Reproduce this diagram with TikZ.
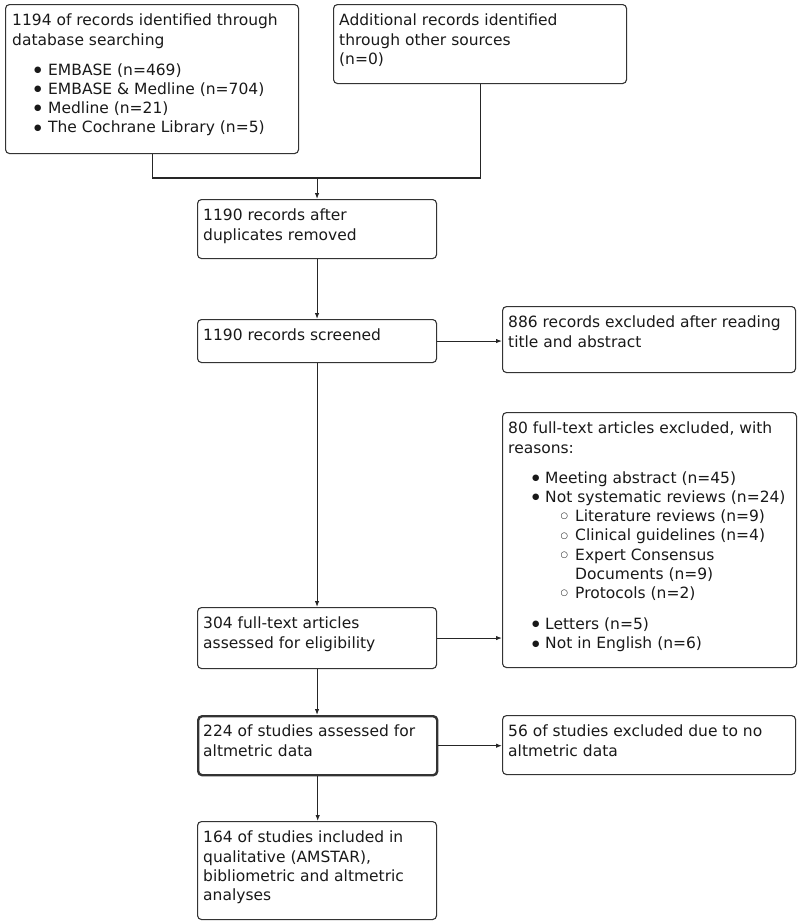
\documentclass[tikz,border=0pt]{standalone}
\usepackage{fontspec}
\setmainfont{DejaVu Sans}
\usetikzlibrary{arrows.meta,calc}
\newcommand{\fbul}[2]{\hspace*{#1}\makebox[#2][l]{\raisebox{2.8pt}{\fontsize{8.5}{8.5}\selectfont ●}}}
\newcommand{\hbul}[2]{\hspace*{#1}\makebox[#2][l]{\raisebox{2.8pt}{\fontsize{8.5}{8.5}\selectfont ○}}}
\begin{document}
\begin{tikzpicture}[x=1pt,y=-1pt,
  box/.style={draw=black!80, line width=1.1pt, rounded corners=4pt, anchor=north west, inner sep=0pt},
  txt/.style={anchor=north west, inner sep=0pt, align=left, font=\fontsize{15.5}{19.2}\selectfont, text=black!90},
  arr/.style={-{Latex[length=6pt,width=4.5pt]}, line width=1.1pt, draw=black!85},
  ln/.style={line width=1.1pt, draw=black!85}]
\useasboundingbox (0,0) rectangle (800,924);
% boxes
\node[box, minimum width=293pt, minimum height=149pt] (b1) at (5,4) {};
\node[box, minimum width=293pt, minimum height=79pt] (b2) at (333,4) {};
\node[box, minimum width=239pt, minimum height=59pt] (b3) at (197,199) {};
\node[box, minimum width=239pt, minimum height=43pt] (b4) at (197,319) {};
\node[box, minimum width=293pt, minimum height=66pt] (b5) at (502,306) {};
\node[box, minimum width=294pt, minimum height=255pt] (b6) at (502,412) {};
\node[box, minimum width=239pt, minimum height=61pt] (b7) at (197,607) {};
\node[box, minimum width=239pt, minimum height=59pt, line width=2.4pt] (b8) at (197,715) {};
\node[box, minimum width=293pt, minimum height=59pt] (b9) at (502,715) {};
\node[box, minimum width=239pt, minimum height=98pt] (b10) at (197,821) {};
% texts
\node[txt] (t1) at ($(b1.north west)+(7,10)$) {1194 of records identified through\\database searching\\[11pt]
\fbul{22pt}{14pt}EMBASE (n=469)\\
\fbul{22pt}{14pt}EMBASE \& Medline (n=704)\\
\fbul{22pt}{14pt}Medline (n=21)\\
\fbul{22pt}{14pt}The Cochrane Library (n=5)};
\node[txt] (t2) at ($(b2.north west)+(6,10)$) {Additional records identified\\through other sources\\(n=0)};
\node[txt] (t3) at ($(b3.north west)+(6,10)$) {1190 records after\\duplicates removed};
\node[txt] (t4) at ($(b4.north west)+(6,10)$) {1190 records screened};
\node[txt] (t5) at ($(b5.north west)+(6,10)$) {886 records excluded after reading\\title and abstract};
\node[txt] (t6) at ($(b6.north west)+(6,10)$) {80 full-text articles excluded, with\\reasons:\\[11pt]
\fbul{24pt}{13pt}Meeting abstract (n=45)\\
\fbul{24pt}{13pt}Not systematic reviews (n=24)\\
\hbul{52.5pt}{14.5pt}Literature reviews (n=9)\\
\hbul{52.5pt}{14.5pt}Clinical guidelines (n=4)\\
\hbul{52.5pt}{14.5pt}Expert Consensus\\
\hspace*{67pt}Documents (n=9)\\
\hbul{52.5pt}{14.5pt}Protocols (n=2)\\[12pt]
\fbul{24pt}{13pt}Letters (n=5)\\
\fbul{24pt}{13pt}Not in English (n=6)};
\node[txt] (t7) at ($(b7.north west)+(6,10)$) {304 full-text articles\\assessed for eligibility};
\node[txt] (t8) at ($(b8.north west)+(6,10)$) {224 of studies assessed for\\altmetric data};
\node[txt] (t9) at ($(b9.north west)+(6,10)$) {56 of studies excluded due to no\\altmetric data};
\node[txt] (t10) at ($(b10.north west)+(6,10)$) {164 of studies included in\\qualitative (AMSTAR),\\bibliometric and altmetric\\analyses};
% connectors
\coordinate (m) at ($(b3.north)+(0,-21)$);
\draw[ln] (b1.south) |- (m);
\draw[ln] (b2.south) |- (m);
\draw[arr] (m) -- (b3.north);
\draw[arr] (b3.south) -- (b4.north);
\draw[arr] (b4.east) -- (b4.east -| b5.west);
\draw[arr] (b4.south) -- (b7.north);
\draw[arr] (b7.east) -- (b7.east -| b6.west);
\draw[arr] (b7.south) -- (b7.south |- b8.north);
\draw[arr] (b8.east) -- (b8.east -| b9.west);
\draw[arr] (b8.south) -- (b8.south |- b10.north);
\end{tikzpicture}
\end{document}
